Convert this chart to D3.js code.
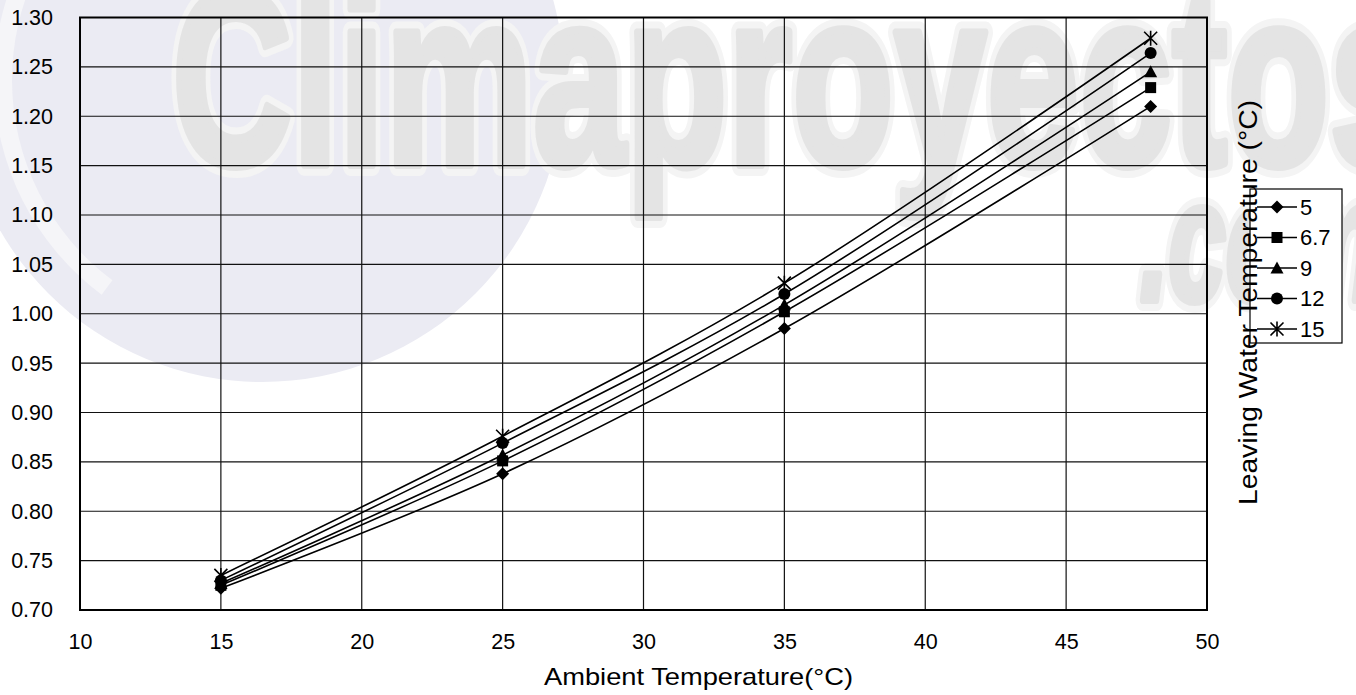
<!DOCTYPE html>
<html>
<head>
<meta charset="utf-8">
<script src="https://cdn.jsdelivr.net/npm/d3@7"></script>
<style>
  html, body { margin: 0; padding: 0; background: #fff; }
  svg { display: block; }
  text { font-family: "Liberation Sans", Arial, sans-serif; fill: #000; }
</style>
</head>
<body>
<svg id="chart" width="1356" height="695"></svg>
<script>
// ---- data ----
const ambientTemps = [15, 25, 35, 48];
const seriesNames = ["5", "6.7", "9", "12", "15"];
const series5   = [0.722, 0.838, 0.985, 1.210];
const series67  = [0.725, 0.851, 1.002, 1.229];
const series9   = [0.727, 0.857, 1.009, 1.245];
const series12  = [0.730, 0.869, 1.020, 1.264];
const series15  = [0.735, 0.876, 1.031, 1.279];
const xTicks = [10, 15, 20, 25, 30, 35, 40, 45, 50];
const yTicks = [0.70, 0.75, 0.80, 0.85, 0.90, 0.95, 1.00, 1.05, 1.10, 1.15, 1.20, 1.25, 1.30];
const markerTypes = ["diamond", "square", "triangle", "circle", "asterisk"];

const seriesValues = [series5, series67, series9, series12, series15];

// ---- layout ----
const svg = d3.select("#chart");
const L = 80, R = 1207, T = 17.5, B = 610;
const x = d3.scaleLinear().domain([10, 50]).range([L, R]);
const y = d3.scaleLinear().domain([0.70, 1.30]).range([B, T]);

// ---- watermark ----
const wm = svg.append("g").attr("class", "watermark");
wm.append("circle").attr("cx", 262).attr("cy", 80).attr("r", 302).attr("fill", "#ebebf3");
wm.append("path")
  .attr("d", d3.arc()({innerRadius: 250, outerRadius: 268, startAngle: -2.5, endAngle: 1.2}))
  .attr("transform", "translate(262,80)")
  .attr("fill", "#f5f5f8");
function wmText(txt, xx, yy, len, size, italic) {
  const base = wm.append("text")
    .attr("x", xx).attr("y", yy)
    .attr("textLength", len).attr("lengthAdjust", "spacingAndGlyphs")
    .style("font-family", "'Liberation Sans Narrow', 'Liberation Sans', sans-serif")
    .style("font-weight", "bold").style("font-size", size + "px")
    .style("font-style", italic ? "italic" : "normal")
    .style("fill", "#e4e4e4").style("stroke", "#f4f4f4").style("stroke-width", 22)
    .style("stroke-linejoin", "round")
    .text(txt);
  wm.append("text")
    .attr("x", xx).attr("y", yy)
    .attr("textLength", len).attr("lengthAdjust", "spacingAndGlyphs")
    .style("font-family", "'Liberation Sans Narrow', 'Liberation Sans', sans-serif")
    .style("font-weight", "bold").style("font-size", size + "px")
    .style("font-style", italic ? "italic" : "normal")
    .style("fill", "#e4e4e4").style("stroke", "#e4e4e4").style("stroke-width", 8)
    .style("stroke-linejoin", "round")
    .text(txt);
}
wmText("Climaproyectos", 172, 165, 1250, 250, false);
wmText(".com", 1140, 300, 240, 170, true);

// ---- grid ----
const grid = svg.append("g");
grid.selectAll("line.h").data(yTicks.slice(1, -1)).join("line")
  .attr("x1", L).attr("x2", R).attr("y1", d => y(d)).attr("y2", d => y(d))
  .attr("stroke", "#111").attr("stroke-width", 1.2);
grid.selectAll("line.v").data(xTicks.slice(1, -1)).join("line")
  .attr("y1", T).attr("y2", B).attr("x1", d => x(d)).attr("x2", d => x(d))
  .attr("stroke", "#111").attr("stroke-width", 1.2);

// ---- axes ----
const xAxis = svg.append("g").attr("transform", `translate(0,${B})`)
  .call(d3.axisBottom(x).tickValues(xTicks).tickFormat(d3.format("d")).tickSize(0).tickPadding(23.5));
const yAxis = svg.append("g").attr("transform", `translate(${L},0)`)
  .call(d3.axisLeft(y).tickValues(yTicks).tickFormat(d3.format(".2f")).tickSize(0).tickPadding(27));
[xAxis, yAxis].forEach(a => {
  a.select(".domain").remove();
  a.selectAll("text").style("font-size", "21.5px").style("font-family", "'Liberation Sans', Arial, sans-serif").attr("fill", "#000");
});

// frame
svg.append("rect").attr("x", L).attr("y", T).attr("width", R - L).attr("height", B - T)
  .attr("fill", "none").attr("stroke", "#000").attr("stroke-width", 2);

// ---- lines ----
const line = d3.line().x((d, i) => x(ambientTemps[i])).y(d => y(d)).curve(d3.curveCatmullRom.alpha(0.5));
const plot = svg.append("g");
plot.selectAll("path.series").data(seriesValues).join("path")
  .attr("class", "series")
  .attr("d", d => line(d))
  .attr("fill", "none").attr("stroke", "#000").attr("stroke-width", 1.6);

function drawMarker(g, type, cx, cy) {
  if (type === "diamond") {
    g.append("path").attr("d", `M${cx},${cy-6.5}L${cx+6.5},${cy}L${cx},${cy+6.5}L${cx-6.5},${cy}Z`).attr("fill", "#000");
  } else if (type === "square") {
    g.append("rect").attr("x", cx - 5.5).attr("y", cy - 5.5).attr("width", 11).attr("height", 11).attr("fill", "#000");
  } else if (type === "triangle") {
    g.append("path").attr("d", `M${cx},${cy-6.5}L${cx+6.5},${cy+5.5}L${cx-6.5},${cy+5.5}Z`).attr("fill", "#000");
  } else if (type === "circle") {
    g.append("circle").attr("cx", cx).attr("cy", cy).attr("r", 6).attr("fill", "#000");
  } else {
    const s = 6.5;
    g.append("path")
      .attr("d", `M${cx-s},${cy-s}L${cx+s},${cy+s}M${cx-s},${cy+s}L${cx+s},${cy-s}M${cx},${cy-s-1}L${cx},${cy+s+1}`)
      .attr("stroke", "#000").attr("stroke-width", 1.6).attr("fill", "none");
  }
}

seriesValues.forEach((vals, si) => {
  const g = plot.append("g");
  vals.forEach((v, i) => drawMarker(g, markerTypes[si], x(ambientTemps[i]), y(v)));
});

// ---- titles ----
svg.append("text").attr("x", 698.5).attr("y", 685)
  .attr("text-anchor", "middle").style("font-size", "24px")
  .attr("textLength", 309).attr("lengthAdjust", "spacingAndGlyphs")
  .text("Ambient Temperature(°C)");

// ---- legend ----
const lg = svg.append("g");
lg.append("rect").attr("x", 1250).attr("y", 189).attr("width", 92).attr("height", 154)
  .attr("fill", "#fff").attr("stroke", "#000").attr("stroke-width", 1.2);
seriesNames.forEach((name, i) => {
  const ly = 207 + i * 30.5;
  lg.append("line").attr("x1", 1257).attr("x2", 1297).attr("y1", ly).attr("y2", ly)
    .attr("stroke", "#000").attr("stroke-width", 1.6);
  drawMarker(lg, markerTypes[i], 1277, ly);
  lg.append("text").attr("x", 1300).attr("y", ly).attr("dy", "0.36em")
    .style("font-size", "22px").text(name);
});

svg.append("text")
  .attr("transform", "translate(1257,302.5) rotate(-90)")
  .attr("text-anchor", "middle").style("font-size", "26px")
  .attr("textLength", 405).attr("lengthAdjust", "spacingAndGlyphs")
  .text("Leaving Water Temperature (°C)");
</script>
</body>
</html>
